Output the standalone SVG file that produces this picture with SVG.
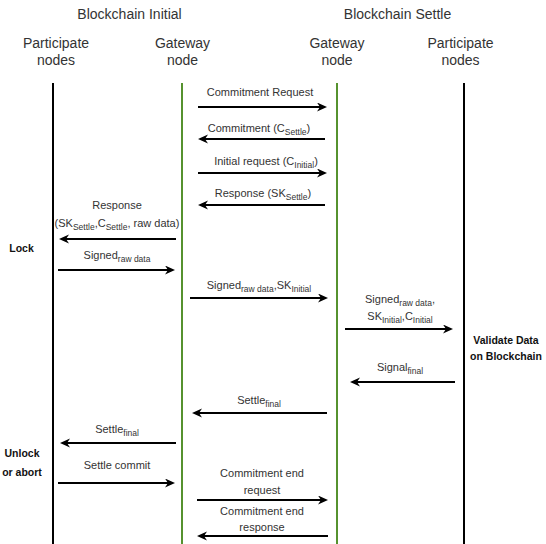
<svg xmlns="http://www.w3.org/2000/svg" width="546" height="544" viewBox="0 0 546 544">
<style>
text{font-family:"Liberation Sans",Arial,sans-serif;}
.h{font-size:14px;fill:#333;text-anchor:middle;}
.l{font-size:11px;fill:#333;text-anchor:middle;}
.b{font-size:10.5px;font-weight:bold;fill:#111;text-anchor:middle;}
.s{font-size:8.5px;}
.life{stroke-width:2;fill:none;}
.k{stroke:#000;}
.g{stroke:#56922f;}
.arr{stroke:#000;stroke-width:2;fill:none;marker-end:url(#ah);}
</style>
<defs>
<marker id="ah" markerUnits="userSpaceOnUse" markerWidth="12" markerHeight="10" refX="7" refY="4.5" orient="auto">
<path d="M0,0 L10,4.5 L0,9 L3,4.5 z" fill="#000"/>
</marker>
</defs>
<rect width="546" height="544" fill="#fff"/>
<g id="headers">
<text class="h" x="129.5" y="19">Blockchain Initial</text>
<text class="h" x="397.5" y="19">Blockchain Settle</text>
</g>
<g id="participants-initial">
<text class="h" x="56" y="48">Participate</text>
<text class="h" x="56" y="65">nodes</text>
<line class="life k" x1="53" y1="83" x2="53" y2="544"/>
</g>
<g id="gateway-initial">
<text class="h" x="182.5" y="48">Gateway</text>
<text class="h" x="182.5" y="65">node</text>
<line class="life g" x1="182" y1="83" x2="182" y2="544"/>
</g>
<g id="gateway-settle">
<text class="h" x="337" y="48">Gateway</text>
<text class="h" x="337" y="65">node</text>
<line class="life g" x1="337" y1="83" x2="337" y2="544"/>
</g>
<g id="participants-settle">
<text class="h" x="460.5" y="48">Participate</text>
<text class="h" x="460.5" y="65">nodes</text>
<line class="life k" x1="464" y1="83" x2="464" y2="544"/>
</g>
<g id="notes">
<text class="b" x="21.5" y="252">Lock</text>
<text class="b" x="506" y="344">Validate Data</text>
<text class="b" x="506" y="360">on Blockchain</text>
<text class="b" x="22" y="457">Unlock</text>
<text class="b" x="22" y="476">or abort</text>
</g>
<g id="connectors">
<line class="arr" x1="198" y1="107" x2="324" y2="107"/>
<text class="l" x="260" y="96">Commitment Request</text>

<line class="arr" x1="325" y1="139" x2="201" y2="139"/>
<text class="l" x="259" y="132">Commitment (C<tspan class="s" dy="3">Settle</tspan><tspan dy="-3">)</tspan></text>

<line class="arr" x1="198" y1="173" x2="324" y2="173"/>
<text class="l" x="266" y="165">Initial request (C<tspan class="s" dy="3">Initial</tspan><tspan dy="-3">)</tspan></text>

<line class="arr" x1="325" y1="205" x2="201" y2="205"/>
<text class="l" x="263" y="197">Response (SK<tspan class="s" dy="3">Settle</tspan><tspan dy="-3">)</tspan></text>

<line class="arr" x1="176" y1="239" x2="62" y2="239"/>
<text class="l" x="117" y="209">Response</text>
<text class="l" x="117" y="227">(SK<tspan class="s" dy="3">Settle</tspan><tspan dy="-3">,C</tspan><tspan class="s" dy="3">Settle</tspan><tspan dy="-3">, raw data)</tspan></text>

<line class="arr" x1="58" y1="270" x2="172" y2="270"/>
<text class="l" x="117" y="259">Signed<tspan class="s" dy="3">raw data</tspan></text>

<line class="arr" x1="190" y1="298" x2="325" y2="298"/>
<text class="l" x="259" y="289">Signed<tspan class="s" dy="3">raw data</tspan><tspan dy="-3">,SK</tspan><tspan class="s" dy="3">Initial</tspan></text>

<line class="arr" x1="345" y1="329" x2="450" y2="329"/>
<text class="l" x="400" y="303">Signed<tspan class="s" dy="3">raw data</tspan><tspan dy="-3">,</tspan></text>
<text class="l" x="400" y="320">SK<tspan class="s" dy="3">Initial</tspan><tspan dy="-3">,C</tspan><tspan class="s" dy="3">Initial</tspan></text>

<line class="arr" x1="455" y1="382" x2="353" y2="382"/>
<text class="l" x="400" y="371">Signal<tspan class="s" dy="3">final</tspan></text>

<line class="arr" x1="327" y1="413" x2="195" y2="413"/>
<text class="l" x="259" y="404">Settle<tspan class="s" dy="3">final</tspan></text>

<line class="arr" x1="176" y1="443" x2="63" y2="443"/>
<text class="l" x="117" y="433">Settle<tspan class="s" dy="3">final</tspan></text>

<line class="arr" x1="58" y1="483" x2="172" y2="483"/>
<text class="l" x="117" y="469">Settle commit</text>

<line class="arr" x1="197" y1="500" x2="325" y2="500"/>
<text class="l" x="262" y="477">Commitment end</text>
<text class="l" x="262" y="494">request</text>

<line class="arr" x1="328" y1="536" x2="200" y2="536"/>
<text class="l" x="262" y="515">Commitment end</text>
<text class="l" x="262" y="531">response</text>
</g>
</svg>
